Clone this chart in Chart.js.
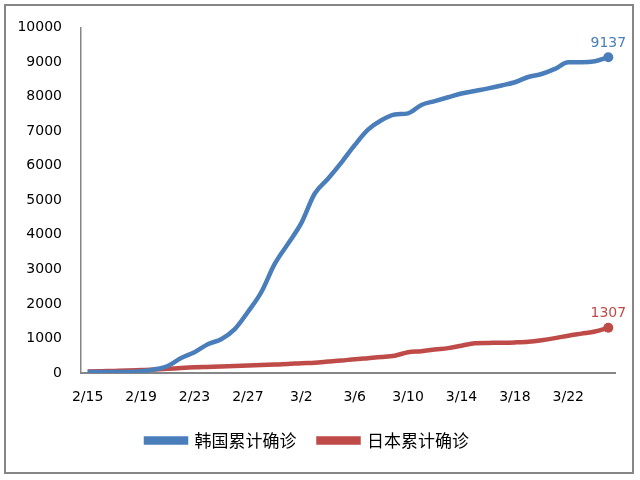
<!DOCTYPE html>
<html>
<head>
<meta charset="utf-8">
<script src="https://cdn.jsdelivr.net/npm/chart.js@4.4.0/dist/chart.umd.min.js"></script>
<style>
  html, body { margin: 0; padding: 0; background: #fff; }
  #wrap { width: 640px; height: 480px; position: relative; }
</style>
</head>
<body>
<div id="wrap"><canvas id="chart" width="640" height="480"></canvas></div>
<script>
// dates 2/15 .. 3/25
const dates = [
  "2/15", "2/16", "2/17", "2/18", "2/19", "2/20", "2/21", "2/22", "2/23", "2/24",
  "2/25", "2/26", "2/27", "2/28", "2/29", "3/1", "3/2", "3/3", "3/4", "3/5",
  "3/6", "3/7", "3/8", "3/9", "3/10", "3/11", "3/12", "3/13", "3/14", "3/15",
  "3/16", "3/17", "3/18", "3/19", "3/20", "3/21", "3/22", "3/23", "3/24", "3/25"
];

const korea = [
  28, 29, 30, 31, 51, 104, 204, 433, 602, 833,
  977, 1261, 1766, 2337, 3150, 3736, 4335, 5186, 5621, 6088,
  6593, 7041, 7314, 7478, 7513, 7755, 7869, 7979, 8086, 8162,
  8236, 8320, 8413, 8565, 8652, 8800, 8990, 8990, 9020, 9137
];

const japan = [
  40, 50, 60, 70, 85, 100, 120, 145, 165, 175,
  185, 200, 220, 235, 245, 260, 285, 300, 330, 360,
  400, 430, 460, 500, 600, 630, 680, 720, 790, 860,
  870, 875, 885, 905, 950, 1010, 1080, 1140, 1200, 1307
];

const seriesNames = ["韩国累计确诊", "日本累计确诊"];
const blue = "#4a7ebb";
const red = "#be4b48";

// outer frame around the chart
const framePlugin = {
  id: "frame",
  beforeDraw(chart) {
    const c = chart.ctx;
    c.save();
    c.fillStyle = "#fff";
    c.fillRect(0, 0, chart.width, chart.height);
    c.strokeStyle = "#868686";
    c.lineWidth = 2;
    c.strokeRect(5, 5, 628, 468);
    c.restore();
  }
};

// value label above the last point of each line
const lastLabelPlugin = {
  id: "lastLabel",
  afterDatasetsDraw(chart) {
    const c = chart.ctx;
    c.save();
    c.font = "14px 'DejaVu Sans'";
    c.textAlign = "center";
    c.textBaseline = "bottom";
    chart.data.datasets.forEach((ds, i) => {
      const meta = chart.getDatasetMeta(i);
      const last = meta.data[meta.data.length - 1];
      c.fillStyle = ds.borderColor;
      c.fillText(ds.data[ds.data.length - 1], last.x, last.y - 7);
    });
    c.restore();
  }
};

const lastOnly = (ctx) => ctx.dataIndex === ctx.dataset.data.length - 1 ? 5 : 0;

new Chart(document.getElementById("chart"), {
  type: "line",
  data: {
    labels: dates,
    datasets: [
      {
        label: seriesNames[0],
        data: korea,
        borderColor: blue,
        backgroundColor: blue,
        borderWidth: 4.5,
        pointRadius: lastOnly,
        pointBackgroundColor: blue,
        pointBorderWidth: 0,
        cubicInterpolationMode: "monotone",
        fill: false,
      },
      {
        label: seriesNames[1],
        data: japan,
        borderColor: red,
        backgroundColor: red,
        borderWidth: 4.5,
        pointRadius: lastOnly,
        pointBackgroundColor: red,
        pointBorderWidth: 0,
        cubicInterpolationMode: "monotone",
        fill: false,
      },
    ],
  },
  options: {
    responsive: false,
    animation: false,
    layout: {
      padding: { top: 27, left: 0, right: 25, bottom: 21 },
    },
    plugins: {
      tooltip: { enabled: false },
      legend: {
        position: "bottom",
        labels: {
          boxWidth: 40,
          boxHeight: 4,
          padding: 22,
          color: "#000",
          font: { family: "'Noto Sans CJK SC'", size: 17 },
        },
      },
    },
    scales: {
      x: {
        offset: true,
        grid: { display: false, drawTicks: false },
        border: { display: true, color: "#868686", width: 2 },
        ticks: {
          autoSkip: false,
          maxRotation: 0,
          padding: 16,
          color: "#000",
          font: { family: "'DejaVu Sans'", size: 14 },
          callback: function (value, index) {
            return index % 4 === 0 ? this.getLabelForValue(value) : "";
          },
        },
        afterFit(scale) { scale.height = 37; },
      },
      y: {
        min: 0,
        max: 10000,
        grid: { display: false, drawTicks: false },
        border: { display: true, color: "#868686", width: 1.5 },
        ticks: {
          stepSize: 1000,
          padding: 19,
          color: "#000",
          font: { family: "'DejaVu Sans'", size: 14 },
          callback: (value) => String(value),
        },
        afterFit(scale) { scale.width = 81; },
      },
    },
  },
  plugins: [framePlugin, lastLabelPlugin],
});
</script>
</body>
</html>
